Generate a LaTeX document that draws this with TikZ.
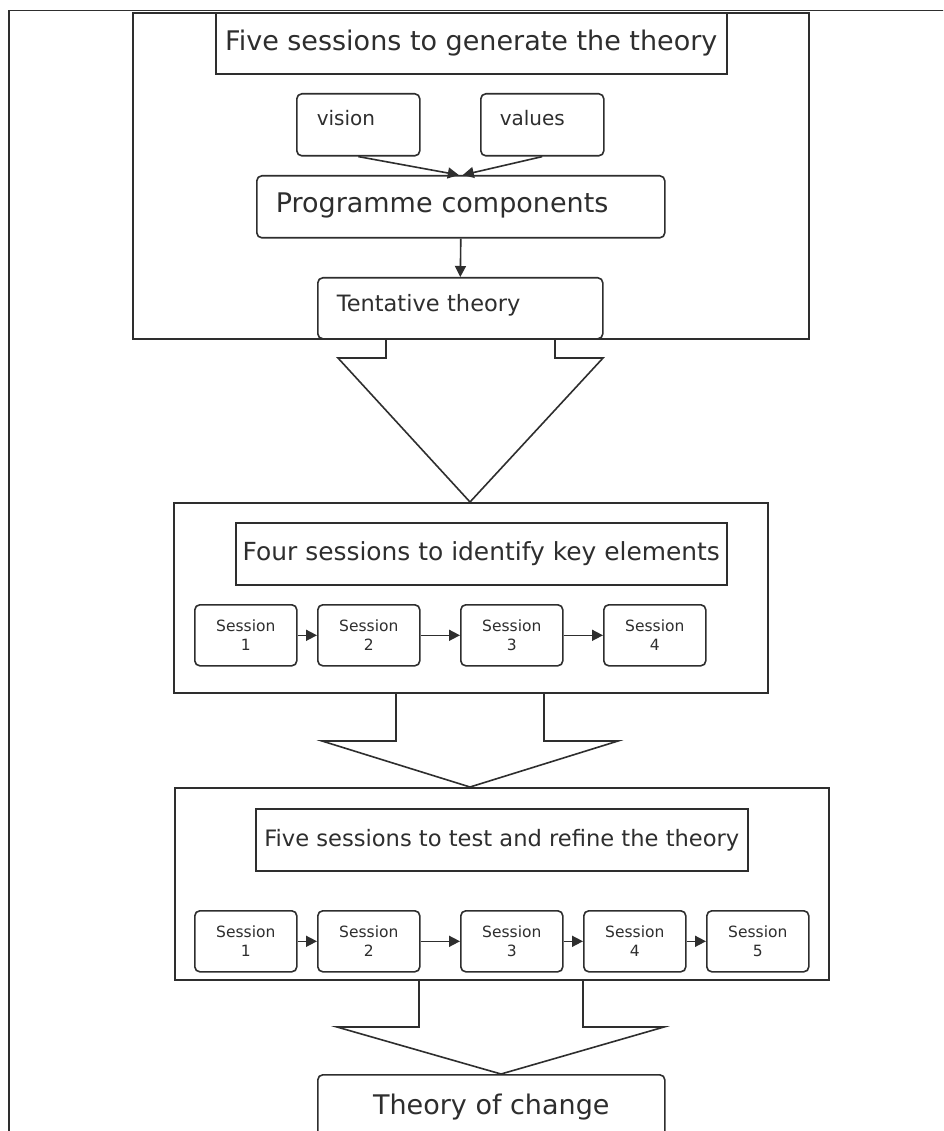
\documentclass[tikz,border=0pt]{standalone}
\usepackage{fontspec}
\setmainfont{DejaVu Sans}
\usetikzlibrary{arrows.meta}
\begin{document}
\begin{tikzpicture}[x=1pt,y=-1pt,
  ln/.style={line width=1.6pt, draw=black!82},
  frame/.style={ln, rectangle, inner sep=0pt, anchor=north west, text=black!82},
  rbox/.style={ln, rounded corners=5pt, inner sep=0pt, anchor=north west, text=black!82},
  arr/.style={ln, -{Triangle[length=11pt,width=11pt]}},
  bigarrow/.style={ln, line join=miter},
  sess/.style={rbox, minimum width=102pt, minimum height=61pt, align=center,
    font=\fontsize{15.5}{19}\selectfont},
  title/.style={frame, font=\fontsize{#1}{#1}\selectfont},
  title/.default=27
]
\useasboundingbox (0,0) rectangle (943,1131);
\fill[white] (0,0) rectangle (943,1131);
\clip (0,0) rectangle (943,1131);

% outer frame lines
\draw[ln] (9,1135) -- (9,10.5) -- (945,10.5);

% ---- block 1 ----
\node[frame, minimum width=676pt, minimum height=326pt] (f1) at (132,12) {};
\node[title=27, minimum width=511pt, minimum height=61pt] (t1) at (215,12) {Five sessions to generate the theory};
\node[rbox, minimum width=123pt, minimum height=62pt, text width=83pt, align=left,
  font=\fontsize{20}{24}\selectfont] (vis) at (296,93) {\raisebox{6.5pt}[\height][\depth]{vision}};
\node[rbox, minimum width=123pt, minimum height=62pt, text width=85pt, align=left,
  font=\fontsize{20}{24}\selectfont] (val) at (480,93) {\raisebox{6.5pt}[\height][\depth]{values}};
\node[rbox, minimum width=408pt, minimum height=62pt, text width=370pt, align=left,
  font=\fontsize{27}{32}\selectfont] (prog) at (256,175) {\raisebox{1pt}[\height][\depth]{Programme components}};
\node[rbox, minimum width=285pt, minimum height=61pt, text width=247pt, align=left,
  font=\fontsize{22.5}{27}\selectfont] (tent) at (317,277) {\raisebox{3.3pt}[\height][\depth]{Tentative theory}};
\draw[arr] (vis.south) -- ([xshift=-2pt]prog.north);
\draw[arr] (val.south) -- ([xshift=2pt]prog.north);
\draw[arr] (prog.south) -- (tent.north);

% big arrow 1
\draw[bigarrow] (386,338) -- (386,358) -- (338,358) -- (470,502) -- (603,358) -- (555,358) -- (555,338);

% ---- block 2 ----
\node[frame, minimum width=594pt, minimum height=190pt] (f2) at (173,502) {};
\node[title=24.9, minimum width=491pt, minimum height=62pt] (t2) at (235,522) {Four sessions to identify key elements};
\node[sess] (a1) at (194,604) {Session\\1};
\node[sess] (a2) at (317,604) {Session\\2};
\node[sess] (a3) at (460,604) {Session\\3};
\node[sess] (a4) at (603,604) {Session\\4};
\draw[arr] (a1.east) -- (a2.west);
\draw[arr] (a2.east) -- (a3.west);
\draw[arr] (a3.east) -- (a4.west);

% big arrow 2
\draw[bigarrow] (396,692) -- (396,741) -- (322,741) -- (470,787) -- (618,741) -- (544,741) -- (544,692);

% ---- block 3 ----
\node[frame, minimum width=654pt, minimum height=192pt] (f3) at (174,787) {};
\node[title=22.6, minimum width=492pt, minimum height=62pt] (t3) at (255,808) {Five sessions to test and refine the theory};
\node[sess] (b1) at (194,910) {Session\\1};
\node[sess] (b2) at (317,910) {Session\\2};
\node[sess] (b3) at (460,910) {Session\\3};
\node[sess] (b4) at (583,910) {Session\\4};
\node[sess] (b5) at (706,910) {Session\\5};
\draw[arr] (b1.east) -- (b2.west);
\draw[arr] (b2.east) -- (b3.west);
\draw[arr] (b3.east) -- (b4.west);
\draw[arr] (b4.east) -- (b5.west);

% big arrow 3
\draw[bigarrow] (419,979) -- (419,1027) -- (337,1027) -- (501,1074) -- (664,1027) -- (583,1027) -- (583,979);

% ---- result ----
\node[rbox, minimum width=347pt, minimum height=64pt, font=\fontsize{27}{32}\selectfont] (toc) at (317,1074) {Theory of change};
\end{tikzpicture}
\end{document}
